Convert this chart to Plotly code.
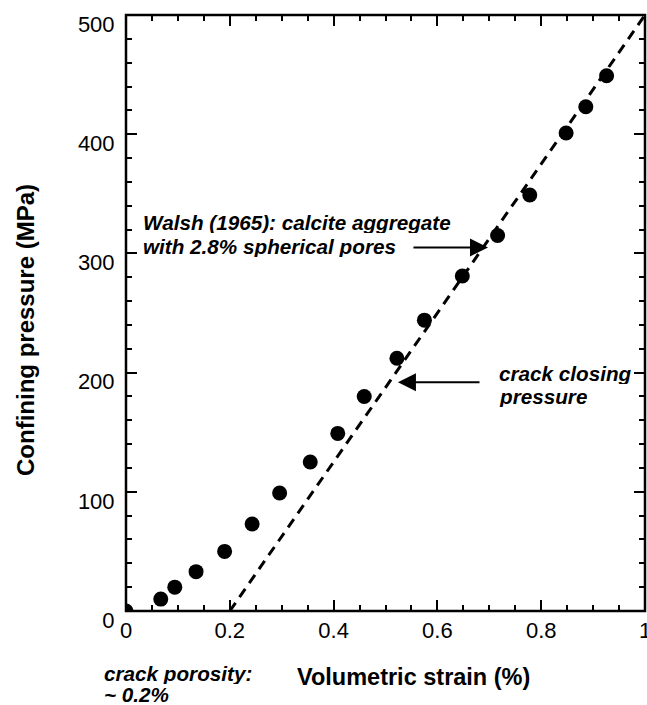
import plotly.graph_objects as go

# Measured data (volumetric strain %, confining pressure MPa)
strain = [0, 0.067, 0.094, 0.135, 0.19, 0.243, 0.296, 0.355, 0.408, 0.459,
          0.522, 0.575, 0.648, 0.716, 0.778, 0.848, 0.886, 0.926]
pressure = [0, 10, 20, 33, 50, 73, 99, 125, 149, 180,
            212, 244, 281, 315, 349, 401, 423, 449]

# Walsh (1965) model line
walsh_strain = [0.2, 1.0]
walsh_pressure = [0, 500]

# Axis ranges and tick spacing (major / minor)
x_range, y_range = [0, 1], [0, 500]
x_dtick, x_minor = 0.2, 0.05
y_dtick, y_minor = 100, 20

FONT = "Liberation Sans, Arial, Helvetica, sans-serif"

fig = go.Figure()
fig.add_trace(go.Scatter(
    x=walsh_strain, y=walsh_pressure, mode="lines",
    line=dict(color="black", width=3, dash="10px,7px"),
    xaxis="x2", yaxis="y2"))
fig.add_trace(go.Scatter(
    x=strain, y=pressure, mode="markers",
    marker=dict(color="black", size=15)))

major = dict(
    showline=True, linecolor="black", gridcolor="white", zerolinecolor="white",
    mirror="ticks", ticks="inside", ticklen=11,
    tickwidth=2, tickcolor="black",
    ticklabeloverflow="allow",
    tickfont=dict(family=FONT, size=22, color="black"),
)
minor = dict(
    showline=False, gridcolor="white", zerolinecolor="white",
    mirror="ticks", ticks="inside", ticklen=6,
    tickwidth=2, tickcolor="black",
    showticklabels=False,
)

fig.update_layout(
    template="none",
    xaxis=dict(range=x_range, dtick=x_dtick, **major),
    yaxis=dict(range=y_range, dtick=y_dtick, ticklabelshift=9,
               ticklabelstandoff=6, **major),
    xaxis2=dict(range=x_range, dtick=x_minor, overlaying="x", anchor="y2", **minor),
    yaxis2=dict(range=y_range, dtick=y_minor, overlaying="y", anchor="x2", **minor),
)

# thick plot frame
fig.add_shape(type="rect", xref="paper", yref="paper", x0=0, y0=0, x1=1, y1=1,
              line=dict(color="black", width=2.5), layer="above")

bi = dict(family=FONT, size=20.7, color="black")
ann = []
# Walsh label
ann.append(dict(x=0.029, y=326, xref="x", yref="y", xanchor="left", yanchor="middle",
                height=22, text="<b><i>Walsh (1965): calcite aggregate</i></b>",
                showarrow=False, font=bi))
ann.append(dict(x=0.029, y=306, xref="x", yref="y", xanchor="left", yanchor="middle",
                height=22, text="<b><i>with 2.8% spherical pores</i></b>",
                showarrow=False, font=bi))
ann.append(dict(x=0.6975, y=305, xref="x", yref="y", ax=0.551, ay=305,
                axref="x", ayref="y", text="", showarrow=True,
                arrowhead=2, arrowsize=1.8, arrowwidth=2, arrowcolor="black"))
# crack closing pressure
ann.append(dict(x=0.715, y=199.5, xref="x", yref="y", xanchor="left", yanchor="middle",
                height=22, text="<b><i>crack closing</i></b>", showarrow=False, font=bi))
ann.append(dict(x=0.715, y=180, xref="x", yref="y", xanchor="left", yanchor="middle",
                height=22, text="<b><i>pressure</i></b>", showarrow=False, font=bi))
ann.append(dict(x=0.524, y=192, xref="x", yref="y", ax=0.684, ay=192,
                axref="x", ayref="y", text="", showarrow=True,
                arrowhead=2, arrowsize=1.8, arrowwidth=2, arrowcolor="black"))
# crack porosity
ann.append(dict(x=-0.047, y=(611 - 673) / 596, xref="paper", yref="paper",
                xanchor="left", yanchor="middle", height=21,
                text="<b><i>crack porosity:</i></b>", showarrow=False, font=bi))
ann.append(dict(x=-0.047, y=(611 - 694) / 596, xref="paper", yref="paper",
                xanchor="left", yanchor="middle", height=21,
                text="<b><i>~ 0.2%</i></b>", showarrow=False, font=bi))
# axis titles
ann.append(dict(x=(414 - 126) / 519, y=(611 - 677) / 596, xref="paper", yref="paper",
                xanchor="center", yanchor="middle",
                text="<b>Volumetric strain (%)</b>", showarrow=False,
                font=dict(family=FONT, size=23.5, color="black")))
ann.append(dict(x=(25 - 126) / 519, y=(611 - 330) / 596, xref="paper", yref="paper",
                xanchor="center", yanchor="middle", textangle=-90,
                text="<b>Confining pressure (MPa)</b>", showarrow=False,
                font=dict(family=FONT, size=24, color="black")))

fig.update_layout(
    width=647, height=705,
    margin=dict(l=126, r=2, t=15, b=94),
    annotations=ann, showlegend=False,
)

fig.write_html("out.html", config={"displayModeBar": False},
               post_script="document.body.style.margin='0';document.body.style.overflow='hidden';")
